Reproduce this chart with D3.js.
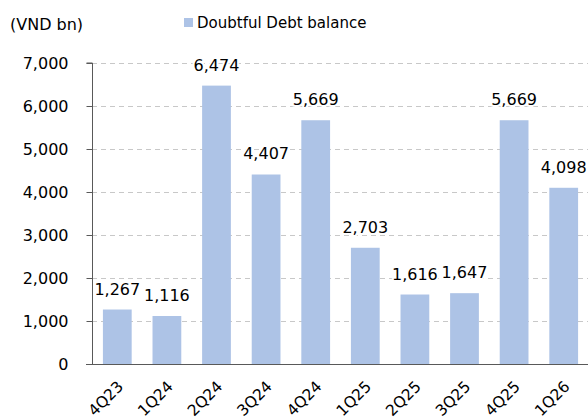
<!DOCTYPE html>
<html>
<head>
<meta charset="utf-8">
<script src="https://cdn.jsdelivr.net/npm/d3@7"></script>
<style>
  body { margin: 0; background: #fff; }
  text { font-family: "DejaVu Sans", sans-serif; fill: #000; }
</style>
</head>
<body>
<div id="chart"></div>
<script>
// Data
const quarters = ['4Q23', '1Q24', '2Q24', '3Q24', '4Q24', '1Q25', '2Q25', '3Q25', '4Q25', '1Q26'];
const doubtfulDebt = [1267, 1116, 6474, 4407, 5669, 2703, 1616, 1647, 5669, 4098];
const yTicks = [0, 1000, 2000, 3000, 4000, 5000, 6000, 7000];
const seriesName = 'Doubtful Debt balance';
const unitLabel = '(VND bn)';

const width = 588, height = 419;
const margin = { top: 63, right: -1, bottom: 55, left: 92 };
const barColor = '#adc3e6';

const svg = d3.select('#chart').append('svg')
    .attr('width', width)
    .attr('height', height);

// Scales
const x = d3.scaleBand()
    .domain(quarters)
    .range([margin.left, width - margin.right])
    .paddingInner(0.42)
    .paddingOuter(0.22);

const y = d3.scaleLinear()
    .domain([0, 7000])
    .range([height - margin.bottom, margin.top]);

// Dashed gridlines
svg.append('g')
    .selectAll('line')
    .data(yTicks.filter(d => d > 0))
    .join('line')
    .attr('x1', margin.left)
    .attr('x2', width)
    .attr('y1', d => Math.round(y(d)) + 0.5)
    .attr('y2', d => Math.round(y(d)) + 0.5)
    .attr('stroke', '#c8c8c8')
    .attr('stroke-dasharray', '5,4');

// Bars
svg.append('g')
    .selectAll('rect')
    .data(quarters)
    .join('rect')
    .attr('x', d => x(d))
    .attr('y', (d, i) => y(doubtfulDebt[i]))
    .attr('width', x.bandwidth())
    .attr('height', (d, i) => y(0) - y(doubtfulDebt[i]))
    .attr('fill', barColor);

// Value labels
svg.append('g')
    .selectAll('text')
    .data(quarters)
    .join('text')
    .attr('x', d => x(d) + x.bandwidth() / 2)
    .attr('y', (d, i) => y(doubtfulDebt[i]) - 15)
    .attr('text-anchor', 'middle')
    .attr('font-size', 16)
    .attr('stroke', '#fff')
    .attr('stroke-width', 4)
    .attr('paint-order', 'stroke')
    .text((d, i) => d3.format(',')(doubtfulDebt[i]));

// Y axis
const yAxis = svg.append('g')
    .attr('transform', `translate(${margin.left + 0.5},0)`)
    .call(d3.axisLeft(y).tickValues(yTicks).tickFormat(d3.format(',')).tickSize(6).tickPadding(18));
yAxis.selectAll('text').attr('font-size', 16);
yAxis.select('.domain').attr('stroke', '#595959').attr('d', `M-6,${y(7000)}H0V${y(0)}`);
yAxis.selectAll('.tick line').attr('stroke', '#595959');

// X axis
const xAxis = svg.append('g')
    .attr('transform', `translate(0,${y(0) + 0.5})`)
    .call(d3.axisBottom(x).tickSize(0).tickPadding(0));
xAxis.select('.domain').attr('stroke', '#595959').attr('d', `M${margin.left - 6},0H${width}`);
xAxis.selectAll('text')
    .attr('font-size', 15.5)
    .attr('text-anchor', 'end')
    .attr('dy', null)
    .attr('y', null)
    .attr('transform', 'translate(7,23) rotate(-45)');

// Unit label
svg.append('text')
    .attr('x', 10)
    .attr('y', 30)
    .attr('font-size', 16)
    .text(unitLabel);

// Legend
const legend = svg.append('g').attr('transform', 'translate(184,18)');
legend.append('rect')
    .attr('width', 9)
    .attr('height', 9)
    .attr('fill', barColor);
legend.append('text')
    .attr('x', 13)
    .attr('y', 10)
    .attr('font-size', 15)
    .text(seriesName);
</script>
</body>
</html>
